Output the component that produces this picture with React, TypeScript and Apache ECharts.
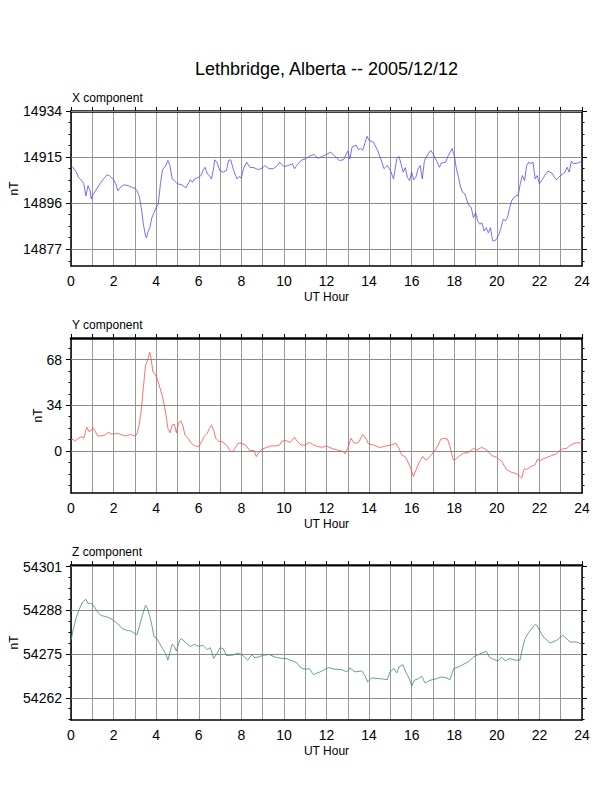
import React, { useEffect, useRef } from 'react';
import * as echarts from 'echarts';

const chartTitle = 'Lethbridge, Alberta -- 2005/12/12';
const hourLabelStep = 2;

// tick labels of the three panels
const xTicks = [14877, 14896, 14915, 14934];
const yTicks = [0, 34, 68];
const zTicks = [54262, 54275, 54288, 54301];

// visible value ranges [min, max]
const xRange = [14870.1, 14934];
const yRange = [-31.3, 84];
const zRange = [54255.4, 54301.5];

// [UT hour, nT]
const xComponent: [number, number][] = [
  [0, 14911.5], [0.1, 14910.6], [0.25, 14908.8], [0.35, 14906.7], [0.5, 14905.3], [0.6, 14904], [0.7, 14899], [0.8, 14903.2],
  [0.9, 14901.1], [0.95, 14897.7], [1.0, 14899], [1.2, 14901.8], [1.4, 14904.6], [1.6, 14906.7], [1.7, 14907.7], [1.8, 14907.4],
  [2.0, 14905.6], [2.1, 14904], [2.2, 14901.1], [2.35, 14902.8], [2.5, 14903.6], [2.7, 14903.2], [2.9, 14902.3], [3.0, 14902.3],
  [3.1, 14901.1], [3.2, 14899], [3.3, 14894.2], [3.4, 14887.3], [3.5, 14882.4], [3.55, 14881.7], [3.6, 14883.8], [3.7, 14885.9],
  [3.8, 14890], [3.9, 14892.1], [4.0, 14894.2], [4.1, 14895.6], [4.2, 14904], [4.3, 14909.8], [4.45, 14911.5], [4.55, 14913.6],
  [4.65, 14911.5], [4.75, 14906], [4.85, 14905.3], [5.0, 14904], [5.2, 14903.6], [5.4, 14902.3], [5.5, 14904], [5.6, 14905.7],
  [5.7, 14904.6], [5.8, 14906], [6.0, 14906.7], [6.1, 14907.4], [6.2, 14909.5], [6.3, 14910.8], [6.4, 14908.1], [6.5, 14907.4],
  [6.6, 14906], [6.7, 14910.6], [6.75, 14913.9], [6.85, 14912.9], [7.0, 14909.2], [7.15, 14908.8], [7.3, 14909.5], [7.4, 14913.6],
  [7.5, 14913.9], [7.6, 14910.6], [7.7, 14908.1], [7.8, 14906], [7.9, 14907], [8.0, 14906.4], [8.1, 14910.2], [8.25, 14912.9],
  [8.4, 14910.8], [8.6, 14910.6], [8.8, 14909.8], [9.0, 14910.6], [9.1, 14911.5], [9.3, 14910.2], [9.5, 14910.2], [9.7, 14911.5],
  [9.8, 14912.9], [10.0, 14911.1], [10.2, 14911.5], [10.4, 14912.3], [10.5, 14910.2], [10.6, 14911.5], [10.8, 14913.6], [11.0, 14914.3],
  [11.2, 14915.3], [11.4, 14916.1], [11.6, 14914.5], [11.8, 14915.3], [12.0, 14916.1], [12.2, 14917.1], [12.4, 14915.3], [12.6, 14913.6],
  [12.8, 14913.9], [13.0, 14917.5], [13.1, 14914.3], [13.2, 14919.2], [13.4, 14919.9], [13.5, 14918.1], [13.6, 14918.5], [13.7, 14917.8],
  [13.8, 14920.6], [13.9, 14923.6], [14.0, 14921.9], [14.2, 14921.2], [14.4, 14917.8], [14.6, 14912.9], [14.7, 14910.2], [14.85, 14911.5],
  [15.0, 14909.5], [15.15, 14906], [15.3, 14914.3], [15.4, 14915.3], [15.5, 14912.3], [15.6, 14908.8], [15.7, 14910.6], [15.8, 14906.7],
  [15.9, 14905.3], [16.0, 14908.8], [16.1, 14905.6], [16.2, 14906.7], [16.3, 14910.2], [16.4, 14911.5], [16.5, 14906], [16.6, 14913.6],
  [16.8, 14916.7], [16.9, 14917.8], [17.0, 14916.4], [17.2, 14912.9], [17.3, 14910.8], [17.4, 14912.5], [17.6, 14912.9], [17.7, 14915.3],
  [17.9, 14918.5], [18.0, 14915.7], [18.1, 14910.2], [18.2, 14906.7], [18.3, 14902.5], [18.4, 14900.4], [18.5, 14899.8], [18.6, 14897],
  [18.7, 14894.9], [18.8, 14894.2], [18.9, 14890], [19.0, 14892.1], [19.1, 14888.7], [19.2, 14887.3], [19.3, 14887.9], [19.4, 14884.5],
  [19.5, 14885.9], [19.6, 14883.8], [19.7, 14885.9], [19.8, 14880.6], [19.9, 14880.4], [20.0, 14881.5], [20.1, 14883.1], [20.2, 14885.9],
  [20.3, 14889.4], [20.4, 14888.7], [20.5, 14890], [20.6, 14894.2], [20.7, 14897], [20.8, 14898.4], [20.9, 14899.1], [21.0, 14899.1],
  [21.1, 14904], [21.2, 14907.4], [21.3, 14905.3], [21.4, 14911.5], [21.5, 14912.9], [21.6, 14912.3], [21.7, 14912.9], [21.8, 14906],
  [21.9, 14907.4], [22.0, 14904], [22.1, 14905.3], [22.2, 14906.7], [22.3, 14908.1], [22.4, 14909.2], [22.6, 14908.3], [22.7, 14906.7],
  [22.8, 14905.6], [22.9, 14906.7], [23.0, 14907.4], [23.2, 14908.8], [23.3, 14910.8], [23.4, 14908.8], [23.5, 14913.3], [23.6, 14912.3],
  [23.8, 14912.5], [24.0, 14913.3],
];

const yComponent: [number, number][] = [
  [0, 8.1], [0.1, 8.6], [0.2, 7.4], [0.35, 9.4], [0.5, 10.6], [0.6, 9.4], [0.7, 15.5], [0.75, 17.5], [0.85, 14.3], [0.95, 15.5],
  [1.05, 16.8], [1.15, 14.3], [1.25, 11.1], [1.4, 11.1], [1.6, 11.8], [1.75, 13.8], [1.9, 12.6], [2.0, 12.6], [2.2, 13.1], [2.4, 11.8],
  [2.6, 11.1], [2.8, 12.3], [3.0, 11.1], [3.1, 12.6], [3.2, 19.2], [3.3, 30.3], [3.4, 47.5], [3.5, 63.6], [3.6, 67.8], [3.7, 73.4],
  [3.75, 69.8], [3.85, 58.7], [3.95, 57.4], [4.1, 51.2], [4.3, 40.2], [4.45, 27.9], [4.55, 16.8], [4.65, 13.5], [4.75, 19.2], [4.85, 20],
  [4.95, 13.5], [5.05, 20.5], [5.15, 22.4], [5.25, 19.2], [5.35, 11.8], [5.5, 9.4], [5.65, 5.7], [5.8, 3.9], [6.0, 3.2], [6.1, 5.7],
  [6.25, 10.6], [6.4, 13.1], [6.5, 16.8], [6.6, 19.2], [6.7, 15.5], [6.8, 9.4], [6.95, 6.9], [7.1, 6.9], [7.3, 4.4], [7.5, -0.5],
  [7.6, -0.5], [7.7, 2], [7.85, 5.7], [8.0, 5.7], [8.2, 4.4], [8.4, 0.2], [8.6, 0.2], [8.7, -4.2], [8.8, -1.7], [8.95, 1.2],
  [9.2, 2.7], [9.4, 3.7], [9.6, 3.7], [9.8, 4.4], [9.9, 7.4], [10.1, 7.6], [10.3, 6.4], [10.5, 10.1], [10.6, 7.6], [10.8, 4.4],
  [11.0, 4.4], [11.2, 6.4], [11.4, 4.4], [11.6, 3.2], [11.8, 2.7], [12.0, 3.7], [12.25, 1.9], [12.5, 0.7], [12.8, -0.5], [12.87, -2.2],
  [13.0, 1.9], [13.15, 9.4], [13.3, 5.7], [13.5, 6.2], [13.7, 12.3], [13.85, 9.4], [13.97, 5.2], [14.2, 4.4], [14.5, 2.5], [14.8, 3.7],
  [15.05, 4.4], [15.25, 5.7], [15.4, 1.9], [15.55, -3.4], [15.7, -4.2], [15.85, -9.1], [15.95, -12.8], [16.08, -19], [16.24, -12.8], [16.37, -7.9],
  [16.52, -4.2], [16.67, -7.1], [16.86, -4.2], [17.05, -0.5], [17.25, 4.4], [17.36, 8.6], [17.52, 9.4], [17.68, 8.9], [17.8, 3.2], [17.93, -5.4],
  [18.0, -7.1], [18.2, -4.2], [18.43, -1.7], [18.66, -1.2], [18.9, 1.9], [19.05, 0.7], [19.29, 2.7], [19.52, 0.7], [19.76, -3.4], [20.0, -4.9],
  [20.23, -7.9], [20.46, -14], [20.7, -16], [20.93, -16.9], [21.17, -20.2], [21.28, -13.5], [21.44, -13.5], [21.6, -11.6], [21.8, -10.3], [21.9, -6.2],
  [22.03, -7.1], [22.26, -5.4], [22.58, -3.4], [22.81, -2.2], [23.0, 1.2], [23.28, 1.9], [23.47, 4.4], [23.75, 6.2], [24.0, 5.7],
];

const zComponent: [number, number][] = [
  [0, 54279.1], [0.1, 54282.1], [0.25, 54286], [0.4, 54288.5], [0.55, 54290.5], [0.7, 54291.3], [0.8, 54290], [0.9, 54290.2],
  [1.0, 54289.8], [1.1, 54289], [1.25, 54287.5], [1.4, 54286.5], [1.6, 54286.2], [1.8, 54285.8], [2.0, 54285], [2.2, 54284],
  [2.4, 54282.6], [2.6, 54282.1], [2.8, 54281.9], [3.0, 54281.1], [3.1, 54280.8], [3.2, 54283], [3.35, 54286.5], [3.5, 54289.5],
  [3.6, 54288.5], [3.7, 54286.2], [3.8, 54283.5], [3.9, 54280.1], [4.0, 54279.9], [4.15, 54278.3], [4.3, 54276.6], [4.45, 54275.1],
  [4.55, 54273.2], [4.65, 54275.6], [4.75, 54277.9], [4.85, 54277.3], [4.95, 54275.9], [5.1, 54279.1], [5.2, 54279.6], [5.4, 54278.3],
  [5.6, 54277.3], [5.8, 54277.9], [6.0, 54277.3], [6.2, 54277.6], [6.4, 54276.3], [6.55, 54276.9], [6.7, 54273.7], [6.85, 54275.1],
  [7.0, 54276.9], [7.15, 54276.6], [7.3, 54274.6], [7.5, 54274.6], [7.7, 54274.9], [7.8, 54275.3], [8.0, 54274.9], [8.15, 54274.1],
  [8.3, 54273.2], [8.5, 54274.9], [8.6, 54274], [8.8, 54274.1], [9.0, 54274.6], [9.3, 54274.9], [9.6, 54274.1], [9.9, 54273.7],
  [10.1, 54273.7], [10.4, 54273], [10.6, 54272.4], [10.8, 54270.9], [11.0, 54270.5], [11.2, 54270.7], [11.38, 54268.9], [11.7, 54269.7],
  [12.09, 54271], [12.4, 54270.5], [12.71, 54270.4], [12.95, 54269.7], [13.1, 54270.9], [13.34, 54269.7], [13.65, 54270], [13.8, 54268.7],
  [13.93, 54266.7], [14.12, 54267.9], [14.5, 54267.7], [14.86, 54267.4], [14.98, 54269.7], [15.17, 54270.7], [15.3, 54269.4], [15.41, 54271.2],
  [15.58, 54271.9], [15.74, 54269.4], [15.85, 54268.2], [16.01, 54265.5], [16.12, 54267.2], [16.32, 54267.7], [16.47, 54268.4], [16.63, 54266.4],
  [16.86, 54267.2], [17.18, 54267.7], [17.41, 54268.2], [17.65, 54267.9], [17.8, 54267.4], [17.97, 54270.7], [18.2, 54271.2], [18.44, 54272],
  [18.66, 54272.7], [18.9, 54274.1], [19.05, 54274.6], [19.29, 54275.3], [19.5, 54275.8], [19.65, 54274.1], [19.84, 54273.4], [20.07, 54273],
  [20.23, 54274.1], [20.39, 54273], [20.62, 54273.7], [20.86, 54273.2], [21.09, 54273.2], [21.22, 54277.1], [21.33, 54279.6], [21.48, 54281.3],
  [21.64, 54282.6], [21.8, 54283.8], [21.9, 54283.4], [22.0, 54282.1], [22.19, 54280.1], [22.5, 54278.3], [22.81, 54279.1], [23.1, 54280.6],
  [23.28, 54279.6], [23.44, 54278.6], [23.75, 54278.6], [24.0, 54277.9],
];

const FONT = '"Liberation Sans", Arial, Helvetica, sans-serif';

const panels = [
  { label: 'X component', data: xComponent, ticks: xTicks, range: xRange, color: '#4d4dff', top: 111, unitX: 13.5 },
  { label: 'Y component', data: yComponent, ticks: yTicks, range: yRange, color: '#ff4d4d', top: 338, unitX: 38.3 },
  { label: 'Z component', data: zComponent, ticks: zTicks, range: zRange, color: '#3f8f62', top: 565, unitX: 13.7 },
];

// quarter steps between labelled ticks, across the whole range
const minorTicks = (ticks: number[], range: number[]) => {
  const step = (ticks[1] - ticks[0]) / 4;
  const out: number[] = [];
  for (let v = ticks[0]; v >= range[0] - 1e-6; v -= step) out.push(+v.toFixed(3));
  for (let v = ticks[0] + step; v <= range[1] + 1e-6; v += step) out.push(+v.toFixed(3));
  return out;
};

function buildOption() {
  const grid: any[] = [];
  const xAxis: any[] = [];
  const yAxis: any[] = [];
  const series: any[] = [];
  const graphic: any[] = [
    {
      type: 'text', x: 326.5, y: 69,
      style: { text: chartTitle, font: `18px ${FONT}`, fill: '#000', textAlign: 'center', textVerticalAlign: 'middle' },
    },
  ];

  panels.forEach((p, i) => {
    grid.push({ left: 71, width: 511, top: p.top, height: 155 });

    xAxis.push({
      type: 'value', gridIndex: i, min: 0, max: 24, interval: 1,
      name: 'UT Hour', nameLocation: 'middle', nameGap: 25,
      nameTextStyle: { fontSize: 12, color: '#000', fontFamily: FONT },
      axisLine: { onZero: false, lineStyle: { color: '#000', width: 1.5 } },
      axisTick: { show: false },
      axisLabel: {
        fontSize: 14, color: '#000', margin: 8, fontFamily: FONT,
        formatter: (v: number) => (v % hourLabelStep === 0 ? String(v) : ''),
      },
      splitLine: { show: true, lineStyle: { color: '#999', width: 1 } },
    });
    xAxis.push({
      type: 'value', gridIndex: i, position: 'top', min: 0, max: 24, interval: 1,
      axisLine: { onZero: false, lineStyle: { color: '#000', width: 2.5 } },
      axisTick: { show: true, length: 4, lineStyle: { color: '#000', width: 1 } },
      axisLabel: { show: false },
      splitLine: { show: false },
    });

    const minor = minorTicks(p.ticks, p.range);
    ['left', 'right'].forEach((pos) => {
      yAxis.push({
        type: 'value', gridIndex: i, position: pos, min: p.range[0], max: p.range[1],
        axisLine: { show: true, onZero: false, lineStyle: { color: '#000', width: 1.5 } },
        axisTick: { show: true, length: 5, customValues: p.ticks, lineStyle: { color: '#000', width: 1 } },
        axisLabel: {
          show: pos === 'left', customValues: p.ticks, fontSize: 14, color: '#000', margin: 9, fontFamily: FONT,
          formatter: (v: number) => String(v),
        },
        splitLine: { show: false },
      });
      yAxis.push({
        type: 'value', gridIndex: i, position: pos, min: p.range[0], max: p.range[1],
        axisLine: { show: false, onZero: false },
        axisTick: { show: true, length: 2.5, customValues: minor, lineStyle: { color: '#000', width: 1 } },
        axisLabel: { show: false },
        splitLine: { show: false },
      });
    });

    series.push({
      type: 'line', xAxisIndex: 2 * i, yAxisIndex: 4 * i, data: p.data,
      showSymbol: false, symbol: 'none', z: 3,
      lineStyle: { color: p.color, width: 0.8 },
      markLine: {
        silent: true, symbol: 'none', z: 1, animation: false,
        label: { show: false },
        lineStyle: { color: '#8a8a8a', width: 1, type: 'solid' },
        data: p.ticks.map((v) => ({ yAxis: v })),
      },
    });

    graphic.push({
      type: 'text', x: 72, y: p.top - 13,
      style: { text: p.label, font: `12px ${FONT}`, fill: '#000', textAlign: 'left', textVerticalAlign: 'middle' },
    });
    graphic.push({
      type: 'text', x: p.unitX, y: p.top + 77.5, rotation: Math.PI / 2,
      style: { text: 'nT', font: `12px ${FONT}`, fill: '#000', textAlign: 'center', textVerticalAlign: 'middle' },
    });
  });

  return {
    animation: false,
    backgroundColor: '#fff',
    textStyle: { fontFamily: FONT },
    grid, xAxis, yAxis, series, graphic,
  };
}

export default function App() {
  const chartRef = useRef<HTMLDivElement>(null);

  useEffect(() => {
    if (!chartRef.current) return;
    const chart = echarts.init(chartRef.current, undefined, { renderer: 'svg' });
    chart.setOption(buildOption());
    return () => chart.dispose();
  }, []);

  return (
    <div
      ref={chartRef}
      style={{ position: 'absolute', left: 0, top: 0, width: 612, height: 792 }}
    />
  );
}
